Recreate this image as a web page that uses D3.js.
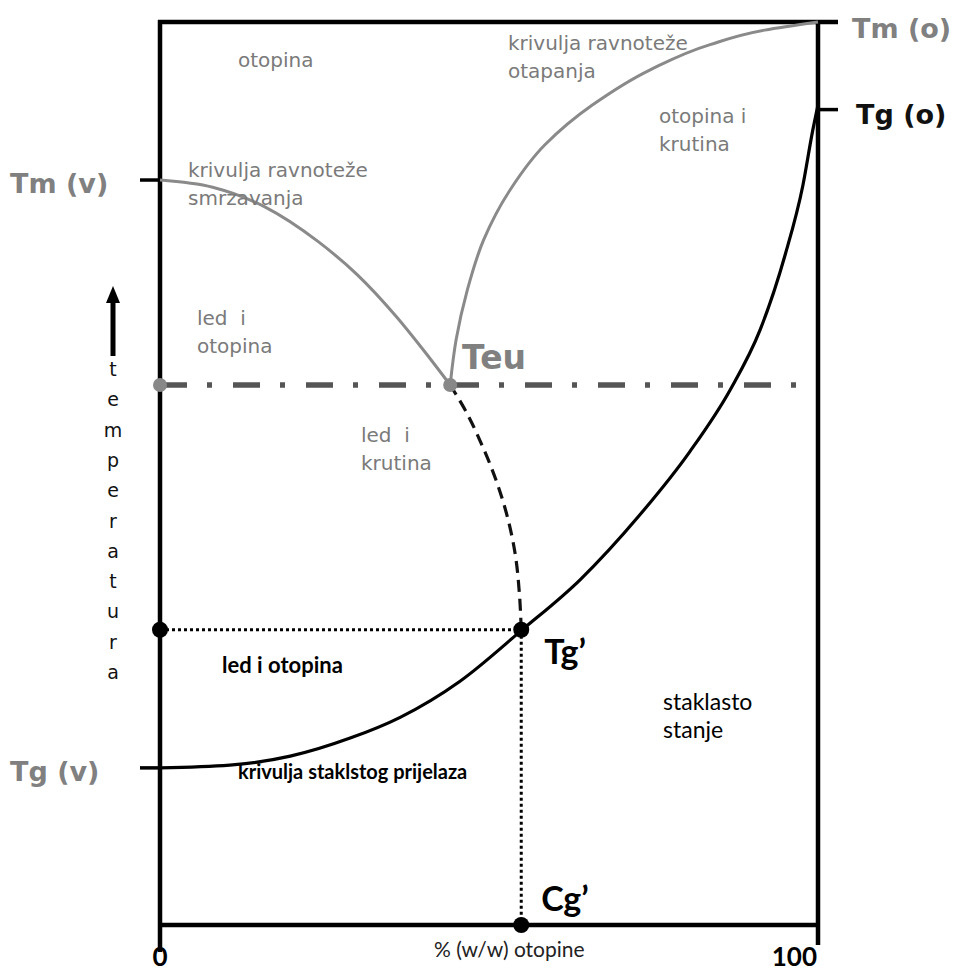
<!DOCTYPE html>
<html>
<head>
<meta charset="utf-8">
<script src="https://cdn.jsdelivr.net/npm/d3@7"></script>
<style>
  body { margin: 0; background: #fff; }
  svg { display: block; }
  text { white-space: pre; }
</style>
</head>
<body>
<div id="chart"></div>
<script>
// curves as [concentration %, temperature (relative)]
const freezing = [[0, 82.5], [8, 81.7], [16, 79.5], [24, 75.7], [30, 72.0], [36, 67.3], [40, 63.7], [44.1, 59.8]]
const freezingExt = [[44.1, 59.8], [46.4, 57.0], [48.9, 53.2], [51.2, 49.0], [52.9, 44.9], [54.0, 41.0], [54.6, 36.9], [54.9, 32.7]]
const dissolving = [[44.1, 59.8], [45.0, 64.8], [46.7, 70.3], [49.2, 75.9], [53.2, 81.4], [58.5, 86.4], [65.7, 90.8], [74.5, 94.7], [83.6, 97.5], [91.9, 99.1], [100, 100]]
const glass = [[0, 17.4], [10.6, 17.7], [19.8, 18.7], [28.9, 20.7], [36.5, 23.0], [45.6, 27.0], [54.9, 32.6], [63.8, 38.2], [72.9, 45.4], [80.5, 52.4], [86.6, 59.2], [91.2, 65.9], [95.0, 74.2], [97.7, 81.9], [99.2, 88.0], [100, 90.8]]

// key levels
const Tm_v = 82.5, Tg_v = 17.4, Tm_o = 100, Tg_o = 90.3
const Teu = 59.8, Teu_x = 44.1
const Tg_p = 32.7, Cg_p = 54.9
const xTicks = [0, 100]
const axisLetters = "temperatura".split("")

const W = 957, H = 972
const svg = d3.select("#chart").append("svg").attr("width", W).attr("height", H)

const x = d3.scaleLinear().domain([0, 100]).range([160, 818])
const y = d3.scaleLinear().domain([0, 100]).range([925, 22])

const gray = "#8a8a8a", grayTxt = "#7a7a7a", black = "#000"
const lineX = d3.line().x(d => x(d[0])).y(d => y(d[1])).curve(d3.curveMonotoneX)
const lineY = d3.line().x(d => x(d[0])).y(d => y(d[1])).curve(d3.curveMonotoneY)

// frame
const frame = svg.append("g").attr("stroke", black).attr("stroke-width", 4.5).attr("stroke-linecap", "butt")
frame.append("line").attr("x1", x(0)).attr("x2", x(0)).attr("y1", y(100) - 2).attr("y2", 952)
frame.append("line").attr("x1", x(100)).attr("x2", x(100)).attr("y1", y(100) - 2).attr("y2", 945)
frame.append("line").attr("x1", x(0) - 2).attr("x2", x(100) + 20).attr("y1", y(Tm_o)).attr("y2", y(Tm_o))
frame.append("line").attr("x1", x(0)).attr("x2", x(100)).attr("y1", y(0)).attr("y2", y(0))
// side ticks
frame.append("line").attr("x1", x(0) - 20).attr("x2", x(0)).attr("y1", y(Tm_v)).attr("y2", y(Tm_v)).attr("stroke-width", 3.5)
frame.append("line").attr("x1", x(0) - 20).attr("x2", x(0)).attr("y1", y(Tg_v)).attr("y2", y(Tg_v)).attr("stroke-width", 3.5)
frame.append("line").attr("x1", x(100)).attr("x2", x(100) + 20).attr("y1", y(Tg_o)).attr("y2", y(Tg_o)).attr("stroke-width", 3.5)

// eutectic dash-dot line
svg.append("line")
  .attr("x1", x(0)).attr("x2", 798).attr("y1", y(Teu)).attr("y2", y(Teu))
  .attr("stroke", "#555").attr("stroke-width", 5.5)
  .attr("stroke-dasharray", "27,20,5,21")

// Tg' dotted guides
const dots = svg.append("g").attr("stroke", black).attr("stroke-width", 3).attr("stroke-dasharray", "3,3")
dots.append("line").attr("x1", x(0)).attr("x2", x(Cg_p)).attr("y1", y(Tg_p)).attr("y2", y(Tg_p))
dots.append("line").attr("x1", x(Cg_p)).attr("x2", x(Cg_p)).attr("y1", y(Tg_p)).attr("y2", y(0))

// curves
svg.append("path").attr("d", lineX(freezing)).attr("fill", "none").attr("stroke", gray).attr("stroke-width", 3)
svg.append("path").attr("d", lineY(dissolving)).attr("fill", "none").attr("stroke", gray).attr("stroke-width", 3)
svg.append("path").attr("d", lineY(freezingExt.slice().reverse())).attr("fill", "none").attr("stroke", "#111")
  .attr("stroke-width", 3.2).attr("stroke-dasharray", "12,7")
svg.append("path").attr("d", lineX(glass)).attr("fill", "none").attr("stroke", black).attr("stroke-width", 3.2)

// markers
const grayPts = [[0, Teu], [Teu_x, Teu]]
const blackPts = [[0, Tg_p], [Cg_p, Tg_p], [Cg_p, 0]]
svg.selectAll(".gpt").data(grayPts).enter().append("circle")
  .attr("cx", d => x(d[0])).attr("cy", d => y(d[1])).attr("r", 7).attr("fill", "#888")
svg.selectAll(".bpt").data(blackPts).enter().append("circle")
  .attr("cx", d => x(d[0])).attr("cy", d => y(d[1])).attr("r", 8).attr("fill", black)

// text helpers
function label(txt, px, py, opts) {
  const t = svg.append("text").attr("x", px).attr("y", py)
    .attr("font-family", opts.font || "DejaVu Sans")
    .attr("font-size", opts.size || 20)
    .attr("font-weight", opts.weight || "normal")
    .attr("fill", opts.color || grayTxt)
    .attr("text-anchor", opts.anchor || "start")
  const lines = txt.split("\n")
  lines.forEach((l, i) => t.append("tspan").attr("x", px).attr("dy", i ? (opts.lh || 28) : 0).text(l))
  return t
}

// gray region labels
label("otopina", 238, 67, {})
label("krivulja ravnoteže\notapanja", 508, 50, {})
label("otopina i\nkrutina", 659, 123, {})
label("krivulja ravnoteže\nsmrzavanja", 188, 177, {})
label("led  i\notopina", 197, 325, {})
label("led  i\nkrutina", 361, 442, {})
label("Teu", 462, 369, { size: 33, weight: "bold", color: "#808080" })

// level labels
label("Tm (v)", 10, 193, { size: 27, weight: "bold", color: "#808080" })
label("Tg (v)", 10, 781, { size: 27, weight: "bold", color: "#808080" })
label("Tm (o)", 852, 38, { size: 27, weight: "bold", color: "#808080" })
label("Tg (o)", 856, 124, { size: 27, weight: "bold", color: "#111" })

// black labels
const cal = "Lato"
label("Tg\u2019", x(Cg_p) + 23, 664, { font: cal, size: 34, weight: "bold", color: black })
label("Cg\u2019", x(Cg_p) + 20, 911, { font: cal, size: 34, weight: "bold", color: black })
label("led i otopina", 222, 673, { font: cal, size: 22, weight: "bold", color: black })
label("staklasto\nstanje", 663, 710, { font: cal, size: 23, color: black, lh: 28 })
label("krivulja staklstog prijelaza", 238, 779, { font: cal, size: 20, weight: "bold", color: black })
label("% (w/w) otopine", 434, 957, { font: cal, size: 21, color: "#222" })

// x tick labels
svg.selectAll(".xt").data(xTicks).enter().append("text")
  .attr("x", d => d === 0 ? x(d) : x(d) - 1)
  .attr("y", 966)
  .attr("text-anchor", d => d === 0 ? "middle" : "end")
  .attr("font-family", cal).attr("font-weight", "bold").attr("font-size", 26)
  .text(d => d)

// vertical axis title with arrow
svg.append("line").attr("x1", 113).attr("x2", 113).attr("y1", 356).attr("y2", 300)
  .attr("stroke", black).attr("stroke-width", 5)
svg.append("path").attr("d", "M113,286 L106,303 L120,303 Z").attr("fill", black)
svg.selectAll(".vl").data(axisLetters).enter().append("text")
  .attr("x", 113).attr("y", (d, i) => 376 + i * 30.3)
  .attr("text-anchor", "middle")
  .attr("font-family", "DejaVu Sans").attr("font-size", 19).attr("fill", "#111")
  .text(d => d)
</script>
</body>
</html>
